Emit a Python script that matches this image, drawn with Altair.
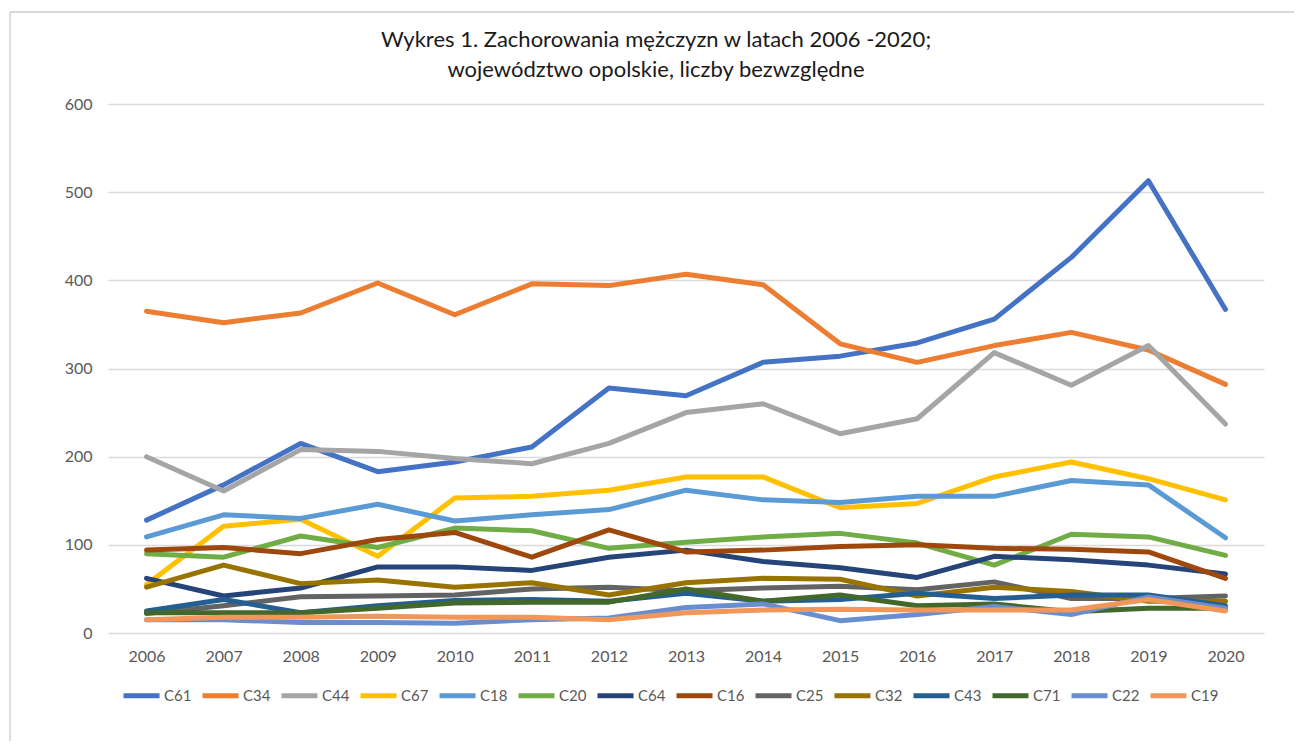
import altair as alt
import pandas as pd

years = list(range(2006, 2021))
series_names = ["C61", "C34", "C44", "C67", "C18", "C20", "C64", "C16", "C25", "C32", "C43", "C71", "C22", "C19"]
colors = ["#4472C4", "#ED7D31", "#A5A5A5", "#FFC000", "#5B9BD5", "#70AD47", "#264478",
          "#9E480E", "#636363", "#997300", "#255E91", "#43682B", "#698ED0", "#F1975A"]
title_lines = ["Wykres 1. Zachorowania mężczyzn w latach 2006 -2020;", "województwo opolskie, liczby bezwzględne"]

C61 = [128, 168, 215, 183, 194, 211, 278, 269, 307, 314, 329, 356, 426, 513, 367]
C34 = [365, 352, 363, 397, 361, 396, 394, 407, 395, 328, 307, 326, 341, 321, 282]
C44 = [200, 161, 208, 206, 198, 192, 215, 250, 260, 226, 243, 318, 281, 326, 237]
C67 = [55, 121, 129, 87, 153, 155, 162, 177, 177, 142, 147, 177, 194, 175, 151]
C18 = [109, 134, 130, 146, 127, 134, 140, 162, 151, 148, 155, 155, 173, 168, 108]
C20 = [90, 86, 110, 97, 119, 116, 96, 103, 109, 113, 102, 77, 112, 109, 88]
C64 = [62, 42, 51, 75, 75, 71, 86, 94, 81, 74, 63, 87, 83, 77, 67]
C16 = [94, 97, 90, 106, 114, 86, 117, 92, 94, 98, 100, 96, 95, 92, 62]
C25 = [22, 31, 41, 42, 43, 50, 52, 48, 51, 53, 49, 58, 39, 39, 42]
C32 = [52, 77, 56, 60, 52, 57, 43, 57, 62, 61, 42, 52, 47, 36, 36]
C43 = [25, 38, 23, 31, 37, 38, 36, 45, 36, 38, 45, 39, 43, 43, 31]
C71 = [23, 23, 23, 28, 34, 35, 35, 50, 36, 43, 31, 33, 24, 28, 28]
C22 = [15, 15, 12, 12, 11, 15, 17, 29, 33, 14, 21, 30, 21, 41, 28]
C19 = [15, 18, 18, 19, 18, 18, 15, 23, 26, 27, 26, 26, 26, 38, 25]

values = [C61, C34, C44, C67, C18, C20, C64, C16, C25, C32, C43, C71, C22, C19]

rows = []
for i, (name, vals) in enumerate(zip(series_names, values)):
    for y, v in zip(years, vals):
        rows.append({"series": name, "order": i, "year": str(y), "value": v})
df = pd.DataFrame(rows)

FONT = "Lato"
LABEL = "#595959"

lines = alt.Chart(df).mark_line(strokeWidth=5, strokeCap="round", strokeJoin="round").encode(
    x=alt.X("year:O", scale=alt.Scale(type="point", padding=0.5),
            axis=alt.Axis(title=None, labelAngle=0, ticks=False, domain=False, grid=False,
                          labelPadding=15, labelFontSize=16, labelColor=LABEL, labelFont=FONT)),
    y=alt.Y("value:Q", scale=alt.Scale(domain=[0, 600], nice=False),
            axis=alt.Axis(title=None, values=[0, 100, 200, 300, 400, 500, 600], ticks=False, domain=False,
                          gridColor="#d9d9d9", gridWidth=1.3, labelPadding=16, labelFontSize=16,
                          labelColor=LABEL, labelFont=FONT)),
    color=alt.Color("series:N", scale=alt.Scale(domain=series_names, range=colors),
                    legend=alt.Legend(title=None, orient="none", direction="horizontal",
                                      columns=14, legendX=13, legendY=571,
                                      symbolType="stroke", symbolSize=1296, symbolStrokeWidth=5,
                                      labelFontSize=15, labelFont=FONT, labelColor=LABEL,
                                      labelOffset=2, columnPadding=0, padding=0)),
    order=alt.Order("order:Q"),
)

border_top = alt.Chart(alt.Data(values=[{}])).mark_rule(stroke="#cccccc", strokeWidth=1.3).encode(
    x=alt.value(-98), x2=alt.value(1186), y=alt.value(-92)
)
border_left = alt.Chart(alt.Data(values=[{}])).mark_rule(stroke="#cccccc", strokeWidth=1.3).encode(
    x=alt.value(-98), y=alt.value(-92), y2=alt.value(700)
)

title1 = alt.Chart(alt.Data(values=[{"t": title_lines[0]}])).mark_text(
    font=FONT, fontSize=22, color="#1a1a1a", align="center", baseline="middle"
).encode(text="t:N", x=alt.value(548), y=alt.value(-64))

title2 = alt.Chart(alt.Data(values=[{"t": title_lines[1]}])).mark_text(
    font=FONT, fontSize=22, color="#1a1a1a", align="center", baseline="middle"
).encode(text="t:N", x=alt.value(548), y=alt.value(-34))

chart = alt.layer(border_top, border_left, title1, title2, lines).properties(
    width=1156, height=529,
    padding={"left": 100, "top": 96, "right": 30, "bottom": 108},
    autosize=alt.AutoSizeParams(type="none"),
).configure_view(stroke=None)

chart.save("out.html", embed_options={"renderer": "svg", "actions": False})
